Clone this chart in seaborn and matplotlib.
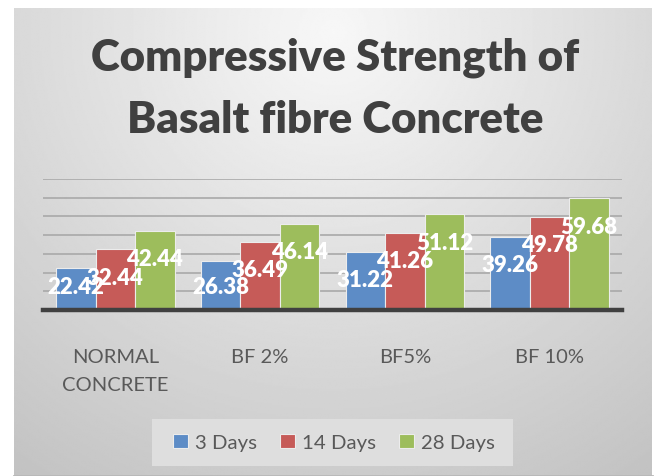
import numpy as np
import pandas as pd
import matplotlib
matplotlib.use("Agg")
import matplotlib.pyplot as plt
import seaborn as sns

categories = ["NORMAL\nCONCRETE", "BF 2%", "BF5%", "BF 10%"]
series = ["3 Days", "14 Days", "28 Days"]
days3 = [22.42, 26.38, 31.22, 39.26]
days14 = [32.44, 36.49, 41.26, 49.78]
days28 = [42.44, 46.14, 51.12, 59.68]
colors = ["#5d8cc6", "#c65b58", "#9dbd5c"]

df = pd.DataFrame({
    "cat": categories * 3,
    "series": [s for s in series for _ in categories],
    "value": days3 + days14 + days28,
})

W, H = 656, 477
fig = plt.figure(figsize=(W / 100, H / 100), dpi=100)
fig.patch.set_facecolor("white")

# background panel with radial gradient
bg = fig.add_axes([14 / W, 0, (652 - 14) / W, (477 - 9) / H])
bg.set_axis_off()
yy, xx = np.mgrid[0:1:300j, 0:1:400j]
r = np.sqrt(((xx - 0.5) / 0.75) ** 2 + ((yy - 0.05) / 1.0) ** 2)
val = 0.97 - 0.18 * np.clip(r, 0, 1.2) ** 1.0
bg.imshow(val, cmap="gray", vmin=0, vmax=1, aspect="auto", extent=[0, 1, 1, 0], interpolation="bilinear")
bg.plot([0, 1], [0.0, 0.0], color="#b8b8b8", lw=2, transform=bg.transAxes, clip_on=False)

ax = fig.add_axes([43 / W, (H - 311) / H, 579 / W, 131 / H])
ax.patch.set_alpha(0)
sns.barplot(data=df, x="cat", y="value", hue="series", palette=colors,
            width=0.82, ax=ax, legend=False, edgecolor="#ececec", linewidth=0.8,
            saturation=1, zorder=3)
ax.set_ylim(0, 70)
ax.set_xlim(-0.5, 3.5)
ax.set_yticks(np.arange(10, 71, 10))
ax.yaxis.grid(True, color="#a9a9a9", lw=1.2, zorder=0)
ax.set_axisbelow(True)
ax.tick_params(axis="y", left=False, labelleft=False)
ax.tick_params(axis="x", bottom=False, pad=24, labelsize=14.5, labelcolor="#595959")
for lab in ax.get_xticklabels():
    lab.set_fontfamily("Lato")
    lab.set_linespacing(1.75)
    lab.set_verticalalignment("top")
for s in ["left", "right", "top"]:
    ax.spines[s].set_visible(False)
ax.spines["bottom"].set_color("#404040")
ax.spines["bottom"].set_linewidth(3.2)
ax.spines["bottom"].set_zorder(5)
ax.set_xlabel("")
ax.set_ylabel("")

for cont in ax.containers:
    for bar in cont:
        h = bar.get_height()
        xc = bar.get_x() + bar.get_width() / 2
        ylab = max(h - 15, 12.8)
        ax.text(xc, ylab, f"{h:.2f}", ha="center", va="center", color="white",
                fontsize=16, fontweight="heavy", family="Lato", zorder=6)

fig.text(335 / W, 1 - 58 / H, "Compressive Strength of", ha="center", va="center",
         fontsize=31.5, fontweight="heavy", family="Lato", color="#404040")
fig.text(335 / W, 1 - 120 / H, "Basalt fibre Concrete", ha="center", va="center",
         fontsize=31.5, fontweight="heavy", family="Lato", color="#404040")

# legend frame
fig.patches.append(plt.Rectangle((152 / W, 1 - 467 / H), (513 - 152) / W, 47 / H,
                                 transform=fig.transFigure, facecolor="#dedede",
                                 edgecolor="none", zorder=1))
handles = [plt.Rectangle((0, 0), 1, 1, facecolor=c, edgecolor="#ececec", lw=0.8) for c in colors]
leg = fig.legend(handles, series, loc="center", bbox_to_anchor=(334 / W, 1 - 443.5 / H),
                 ncol=3, frameon=False,
                 prop={"family": "Lato", "size": 14.7}, handlelength=0.7, handleheight=0.7,
                 columnspacing=1.15, handletextpad=0.35, borderpad=0.5)
for t in leg.get_texts():
    t.set_color("#595959")

fig.savefig("out.png", dpi=100)
